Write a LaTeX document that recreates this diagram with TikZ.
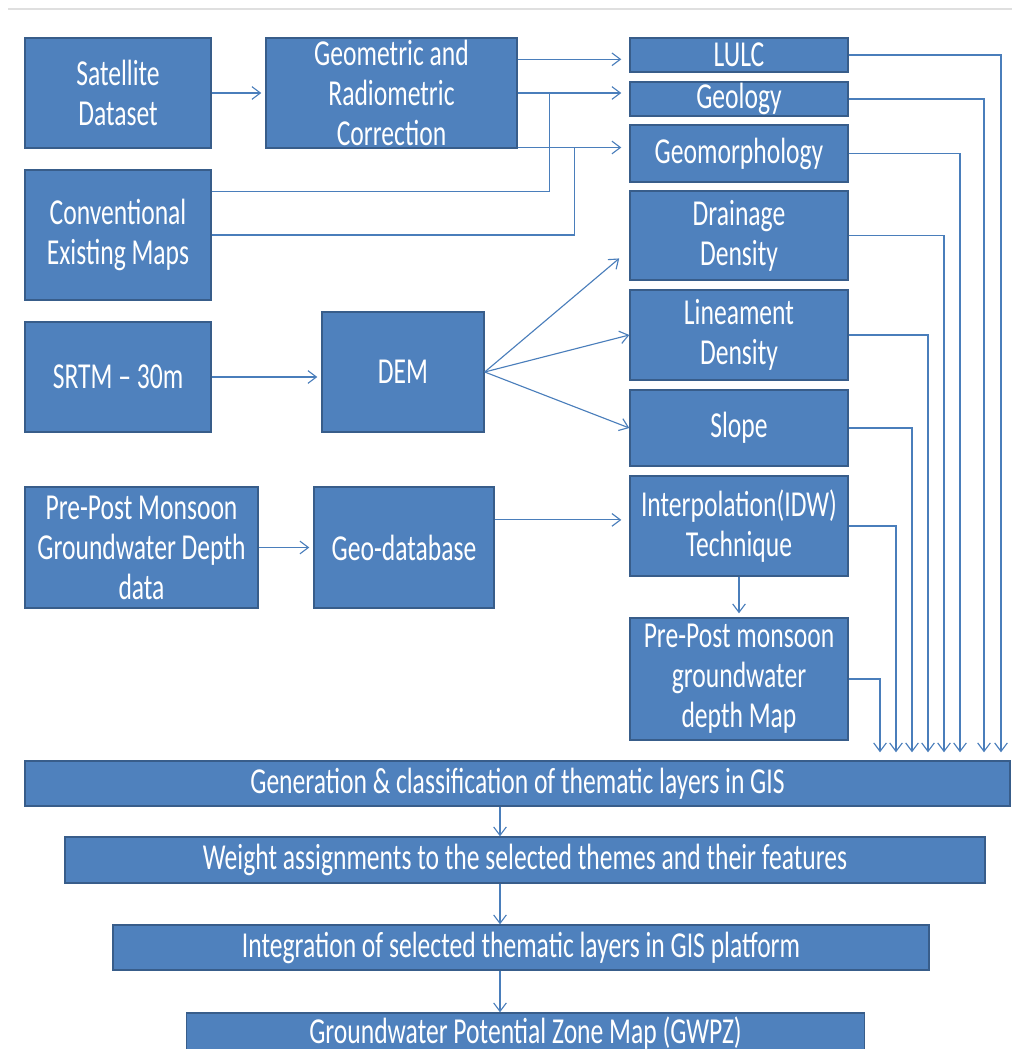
\documentclass[tikz,border=0pt]{standalone}
\usepackage{fontspec}
\setmainfont[FakeStretch=0.70]{Carlito}
\usetikzlibrary{arrows.meta,positioning}
\definecolor{boxfill}{HTML}{4F81BD}
\definecolor{boxline}{HTML}{385D8A}
\definecolor{linkcol}{HTML}{4A7EBB}

\begin{document}
\begin{tikzpicture}[
  x=0.025cm, y=-0.025cm,
  box/.style={
    draw=boxline, fill=boxfill, line width=1pt,
    text=white, align=center, inner sep=0pt,
    font=\fontsize{26}{28.5}\selectfont
  },
  boxsize/.style 2 args={minimum width=#1*0.025cm, minimum height=#2*0.025cm},
  link/.style={draw=linkcol, line width=0.8pt},
  arrow/.style={link, -{Straight Barb[length=6pt,width=9pt]}}
]

\useasboundingbox (0,0) rectangle (1012,1049);
\draw[gray!25, line width=1pt] (8,9) -- (1012,9);

% inputs and first steps
\node (sat) [box, boxsize={186}{110}] at (118,93) {Satellite\\Dataset};
\node (geo) [box, boxsize={251}{110}] at (391.5,93) {Geometric and\\Radiometric\\Correction};
\node (conv) [box, boxsize={186}{130}] at (118,235) {Conventional\\Existing Maps};
\node (srtm) [box, boxsize={186}{110}] at (118,377) {SRTM -- 30m};
\node (dem) [box, boxsize={162}{120}] at (403,372) {DEM};
\node (pre) [box, boxsize={233}{121}] at (141.5,547.5) {Pre-Post Monsoon\\Groundwater Depth\\data};
\node (geodb) [box, boxsize={180}{121}] at (404,547.5) {Geo-database};

% thematic layers
\node (lulc) [box, boxsize={218}{34}] at (739,55) {LULC};
\node (geol) [box, boxsize={218}{34}] at (739,99) {Geology};
\node (geom) [box, boxsize={218}{57}] at (739,153.5) {Geomorphology};
\node (drain) [box, boxsize={218}{89}] at (739,235.5) {Drainage\\Density};
\node (linea) [box, boxsize={218}{90}] at (739,335) {Lineament\\Density};
\node (slope) [box, boxsize={218}{76}] at (739,428) {Slope};
\node (interp) [box, boxsize={218}{100}] at (739,526) {Interpolation(IDW)\\Technique};
\node (gwmap) [box, boxsize={218}{122}] at (739,679) {Pre-Post monsoon\\groundwater\\depth Map};

% GIS steps
\node (gen) [box, boxsize={985}{45}] at (517.5,783.5) {Generation \& classification of thematic layers in GIS};
\node (weight) [box, boxsize={920}{46}] at (525,860) {Weight assignments to the selected themes and their features};
\node (integ) [box, boxsize={816}{45}] at (521,947.5) {Integration of selected thematic layers in GIS platform};
\node (gwpz) [box, boxsize={678}{40}] at (525.5,1033) {Groundwater Potential Zone Map (GWPZ)};

\draw[arrow, shorten >=0.1cm] (sat.east) -- (geo.west);
\draw[arrow, shorten >=0.2cm] ([yshift=-0.55cm]geo.north east) coordinate (c1) -- (c1 -| lulc.west);
\draw[arrow, shorten >=0.2cm] (geo.east) coordinate (c2) -- (c2 -| geol.west);
\draw[arrow, shorten >=0.2cm] ([yshift=0.03cm]geo.south east) coordinate (c3) -- (c3 -| geom.west);
\draw[link] ([yshift=-0.55cm]conv.north east) -| ([xshift=0.8cm]c2);
\draw[link] (conv.east) -| ([xshift=1.425cm]c3);

\draw[arrow, shorten >=0.1cm] (srtm.east) -- (srtm.east -| dem.west);
\draw[arrow, shorten >=0.33cm] (dem.east) -- ([yshift=-0.36cm]drain.west);
\draw[arrow] (dem.east) -- (linea.west);
\draw[arrow] (dem.east) -- (slope.west);

\draw[arrow, shorten >=0.1cm] (pre.east) -- (geodb.west);
\draw[arrow, shorten >=0.2cm] ([yshift=0.69cm]geodb.east) coordinate (c4) -- (c4 -| interp.west);
\draw[arrow, shorten >=0.1cm] (interp.south) -- (gwmap.north);

% layers into GIS
\foreach \src/\col in {lulc/1001, geol/984, geom/960, drain/944, linea/928, slope/912, interp/896, gwmap/880}
  \draw[arrow, shorten >=0.2cm] (\src.east) -| (gen.north -| \col,0);

\coordinate (spine) at (500,0);
\draw[arrow] (gen.south -| spine) -- (weight.north -| spine);
\draw[arrow] (weight.south -| spine) -- (integ.north -| spine);
\draw[arrow] (integ.south -| spine) -- (gwpz.north -| spine);

\end{tikzpicture}
\end{document}
